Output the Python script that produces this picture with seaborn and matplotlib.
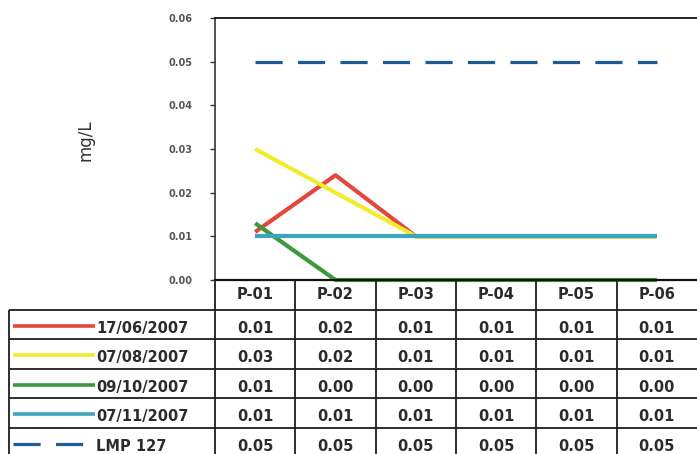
import numpy as np
import pandas as pd
import matplotlib
matplotlib.use("Agg")
import matplotlib.pyplot as plt
import seaborn as sns

# Sampling points and monitoring campaigns
points = ["P-01", "P-02", "P-03", "P-04", "P-05", "P-06"]
series_names = ["17/06/2007", "07/08/2007", "09/10/2007", "07/11/2007", "LMP 127"]

# Concentrations (mg/L) per campaign
jun_17 = [0.011, 0.024, 0.010, 0.010, 0.010, 0.010]
aug_07 = [0.030, 0.020, 0.010, 0.010, 0.010, 0.010]
oct_09 = [0.013, 0.000, 0.000, 0.000, 0.000, 0.000]
nov_07 = [0.010, 0.010, 0.010, 0.010, 0.010, 0.010]
lmp_127 = [0.05, 0.05, 0.05, 0.05, 0.05, 0.05]

y_ticks = [0.00, 0.01, 0.02, 0.03, 0.04, 0.05, 0.06]
y_label = "mg/L"

colors = ["#e5473c", "#f2ec2e", "#3c9a3e", "#3ea6ba", "#1f5a92"]
dash_styles = ["", "", "", "", (8.5, 4.8)]

sns.set_theme(style="white")
plt.rcParams["font.family"] = ["DejaVu Sans"]

values = [jun_17, aug_07, oct_09, nov_07, lmp_127]
df = pd.DataFrame({
    "punto": points * len(series_names),
    "serie": np.repeat(series_names, len(points)),
    "valor": np.concatenate(values),
})

W_PX, H_PX = 697, 454
fig = plt.figure(figsize=(W_PX / 100, H_PX / 100), dpi=100)
fig.patch.set_facecolor("white")

left = 215 / W_PX
bottom = 1 - 280 / H_PX
height = (280 - 18) / H_PX
ax = fig.add_axes([left, bottom, 1 - left, height])

palette = dict(zip(series_names, colors))
dashes = dict(zip(series_names, dash_styles))
sns.lineplot(data=df, x="punto", y="valor", hue="serie", style="serie",
             hue_order=series_names, style_order=series_names,
             palette=palette, dashes=dashes, linewidth=3.0, sort=False,
             errorbar=None, legend=False, ax=ax)
for line, name in zip(ax.lines, series_names):
    line.set_clip_on(False)
    line.set_solid_capstyle("butt")
    if name == "LMP 127":
        line.set_linewidth(2.3)

ax.set_xlim(-0.5, len(points) - 0.5)
ax.set_ylim(y_ticks[0], y_ticks[-1])
ax.set_yticks(y_ticks)
ax.set_yticklabels([f"{t:.2f}" for t in y_ticks], fontsize=7, fontweight="bold",
                   color="#555555")
ax.set_xticks([])
ax.set_xlabel("")
ax.tick_params(axis="y", direction="out", length=3.5, width=1.0, color="#333333",
               pad=13, left=True)
ax.set_ylabel(y_label, fontsize=12, color="#333333")
ax.yaxis.set_label_coords(-0.268, 0.534)
ax.yaxis.label.set_verticalalignment("center")

for side in ["top", "left", "bottom"]:
    ax.spines[side].set_visible(True)
ax.spines["right"].set_visible(False)
ax.spines["top"].set_color("#111111")
ax.spines["top"].set_linewidth(1.3)
ax.spines["left"].set_color("#333333")
ax.spines["left"].set_linewidth(1.2)
ax.spines["bottom"].set_color("#111111")
ax.spines["bottom"].set_linewidth(1.6)

# Data table under the chart, aligned with the category columns
col_w = (1 - left) / len(points)
x0 = -0.5 - left / col_w
row_px = 29.5
ax_t = fig.add_axes([0, 0, 1, bottom])
ax_t.set_xlim(x0, len(points) - 0.5)
ax_t.set_ylim(bottom * H_PX / row_px, 0)
ax_t.axis("off")


def px_x(p):
    return x0 + (p / W_PX) / col_w


grid_kw = dict(color="#1e1e1e", linewidth=1.3, clip_on=False)
label_left = px_x(9)
n_rows = len(series_names)
ymax = bottom * H_PX / row_px
for r in range(1, n_rows + 1):
    ax_t.hlines(r, label_left, len(points) - 0.5, **grid_kw)
for c in range(len(points)):
    ax_t.vlines(c - 0.5, 0, ymax, **grid_kw)
ax_t.vlines(label_left, 1, ymax, **grid_kw)

text_kw = dict(ha="center", va="center", fontsize=10.5, fontweight="bold",
               color="#2b2b2b")
for c, p in enumerate(points):
    ax_t.text(c, 0.5, p, **text_kw)
for r, (name, vals) in enumerate(zip(series_names, values), start=1):
    for c, v in enumerate(vals):
        ax_t.text(c, r + 0.63, f"{v:.2f}", **text_kw)
    ax_t.plot([px_x(13), px_x(95)], [r + 0.55, r + 0.55], color=palette[name],
              linewidth=2.6 if name != "LMP 127" else 2.3,
              linestyle=(0, dashes[name]) if dashes[name] else "-",
              solid_capstyle="butt", clip_on=False)
    ax_t.text(px_x(96), r + 0.63, name, ha="left", va="center", fontsize=10.5,
              fontweight="bold", color="#2b2b2b")

fig.savefig("out.png", dpi=100, facecolor="white")
